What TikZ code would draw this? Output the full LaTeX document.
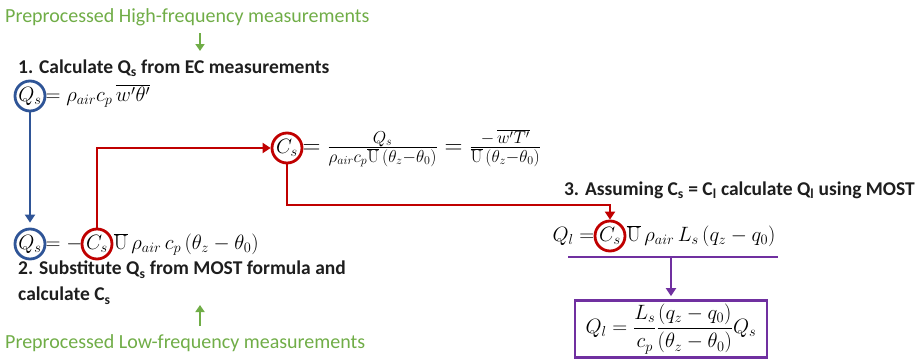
\documentclass[tikz,border=0pt]{standalone}
\usepackage[no-math]{fontspec}
\setmainfont{Carlito}
\usetikzlibrary{arrows.meta,positioning}

\definecolor{ecgreen}{RGB}{112,173,71}
\definecolor{mostblue}{RGB}{47,85,151}
\definecolor{mostred}{RGB}{192,0,0}
\definecolor{mostpurple}{RGB}{112,48,160}
\definecolor{inkgray}{RGB}{30,30,30}

\tikzset{
  ring/.style={circle, draw, line width=2.8pt, inner sep=0pt, minimum size=30pt, font=\fontsize{21}{24}\selectfont},
  eqn/.style={inner sep=1pt, font=\fontsize{21}{24}\selectfont},
  title/.style={font=\fontsize{19.5}{26}\selectfont\bfseries, text=inkgray, align=left, inner sep=0pt},
  source/.style={font=\fontsize{20}{23}\selectfont, text=ecgreen, inner sep=0pt},
  flow/.style={line width=2.8pt, -{Triangle[length=8pt,width=10pt]}},
  feed/.style={line width=2.8pt, ecgreen, -{Triangle[length=7pt,width=9pt]}},
}

\begin{document}
\begin{tikzpicture}[x=1pt, y=-1pt]
    \useasboundingbox (0,0) rectangle (921,362);

    % Step 1
    \node[source, anchor=west] (hifreq) at (5,17) {Preprocessed High-frequency measurements};
    \node[title, anchor=west] (step1) at (18,68) {1. Calculate Q\textsubscript{s} from EC measurements};
    \node[ring, draw=mostblue] (Qs1) at (30,96) {$Q_s$};
    \node[eqn, anchor=base west] (eq1) at ([xshift=-2pt]Qs1.east |- Qs1.base) {$= \rho_{air}c_p\,\overline{w'\theta'}$};

    % Step 2
    \node[ring, draw=mostblue] (Qs2) at (30,244) {$Q_s$};
    \node[eqn, anchor=base west] (eq2a) at ([xshift=-2pt]Qs2.east |- Qs2.base) {$=-$};
    \node[ring, draw=mostred] (Cs2) at (97,244) {$C_s$};
    \node[eqn, anchor=base west] (eq2b) at ([xshift=-1pt]Cs2.east |- Cs2.base) {$\overline{\mathrm{U}}\,\rho_{air}\,c_p\,(\theta_z-\theta_0)$};
    \node[title, anchor=north west] (step2) at (18,261) {2. Substitute Q\textsubscript{s} from MOST formula and\\calculate C\textsubscript{s}};
    \node[source, anchor=west] (lofreq) at (5,343) {Preprocessed Low-frequency measurements};

    % C_s
    \node[ring, draw=mostred] (Cs1) at (287,148) {$C_s$};
    \node[eqn, anchor=base west, font=\fontsize{23}{26}\selectfont] (eqC) at ([xshift=-2pt]Cs1.east |- Cs1.base) {$= \frac{Q_s}{\rho_{air}c_p\overline{\mathrm{U}}\,(\theta_z-\theta_0)} = \frac{-\,\overline{w'T'}}{\overline{\mathrm{U}}\,(\theta_z-\theta_0)}$};

    % Step 3
    \node[title, anchor=east] (step3) at (915,190) {3. Assuming C\textsubscript{s} = C\textsubscript{l} calculate Q\textsubscript{l} using MOST};
    \node[ring, draw=mostred] (Cs3) at (610,236) {$C_s$};
    \node[eqn, anchor=base east] (eq3a) at ([xshift=2pt]Cs3.west |- Cs3.base) {$Q_l =$};
    \node[eqn, anchor=base west] (eq3b) at ([xshift=-1pt]Cs3.east |- Cs3.base) {$\overline{\mathrm{U}}\,\rho_{air}\,L_s\,(q_z-q_0)$};
    \coordinate (barL) at (568,257);
    \coordinate (barR) at (778,257);
    \node[eqn, draw=mostpurple, line width=2.8pt, minimum width=192pt, minimum height=57pt] (Ql) at (671,329)
        {$\displaystyle Q_l = \frac{L_s}{c_p}\frac{(q_z-q_0)}{(\theta_z-\theta_0)}Q_s$};

    % green inputs
    \coordinate (hitail) at (200,33);
    \coordinate (hitip) at (200,51);
    \coordinate (lotail) at (200,326);
    \coordinate (lotip) at (200,305);
    \draw[feed] (hitail) -- (hitip);
    \draw[feed] (lotail) -- (lotip);

    % connectors
    \draw[flow, mostblue, shorten >=5pt] (Qs1) -- (Qs2);
    \draw[flow, mostred] (Cs2.north) |- (Cs1.west);
    \coordinate (redturn) at (450,205);
    \draw[flow, mostred] (Cs1.south) |- (redturn) -| (Cs3.north);
    \draw[line width=2.8pt, mostpurple] (barL) -- (barR);
    \draw[flow, mostpurple, shorten >=3pt] (Ql.north |- barL) -- (Ql.north);
\end{tikzpicture}
\end{document}
